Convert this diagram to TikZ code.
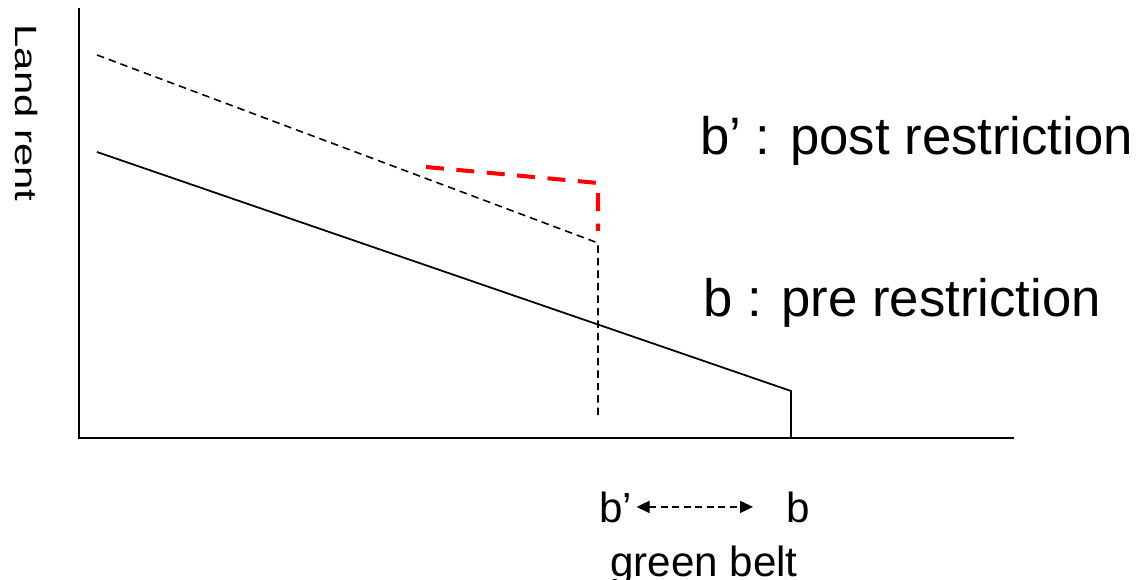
\documentclass[tikz,border=0pt]{standalone}
\usepackage{fontspec}
\setmainfont{Liberation Sans}
\usetikzlibrary{arrows.meta}
\definecolor{limitred}{HTML}{FF0000}

\begin{document}
\begin{tikzpicture}[x=0.02cm, y=-0.02cm,
    axis/.style={line width=1.1pt},
    rentline/.style={line width=1pt},
    postline/.style={line width=0.9pt, dash pattern=on 0.15cm off 0.1cm},
    limitline/.style={limitred, line width=2.3pt, dash pattern=on 0.36cm off 0.25cm},
    biglabel/.style={inner sep=0pt, font=\fontsize{24pt}{28pt}\selectfont},
    curvelabel/.style={inner sep=0pt, anchor=base west, font=\fontsize{30pt}{34pt}\selectfont}]
  \useasboundingbox (0,0) rectangle (1138,580);
  % axes
  \coordinate (ytop) at (79,8);
  \coordinate (origin) at (79,438);
  \coordinate (xend) at (1014,438);
  \draw[axis] (ytop) -- (origin) -- (xend);
  % rent before the restriction
  \coordinate (pre0) at (97,152);
  \coordinate (preb) at (791,391);
  \coordinate (prefoot) at (791,438);
  \draw[rentline] (pre0) -- (preb) -- (prefoot);
  % rent after the restriction
  \coordinate (post0) at (97,55);
  \coordinate (postb) at (598,243);
  \coordinate (postfoot) at (598,420);
  \draw[postline] (post0) -- (postb) -- (postfoot);
  \coordinate (lim0) at (426,167);
  \coordinate (limc) at (598,183);
  \coordinate (limend) at (598,231);
  \draw[limitline] (lim0) -- (limc) -- (limend);
  % labels
  \node[inner sep=0pt, rotate=-90, font=\fontsize{17.5pt}{20pt}\selectfont] (rent) at (26,113)
    {\scalebox{1.36}[1]{Land rent}};
  \node[curvelabel] (postlbl) at (700,155) {b’ : post restriction};
  \node[curvelabel] (prelbl) at (703,317) {b : pre restriction};
  \node[biglabel, anchor=base west] (bprime) at (599,522) {b’};
  \node[biglabel, anchor=base west] (bpre) at (786,522) {b};
  \node[biglabel, anchor=base] (belt) at (704,576) {green belt};
  \draw[{Triangle[length=0.26cm,width=0.24cm]}-{Triangle[length=0.26cm,width=0.24cm]},
        line width=1pt, dash pattern=on 0.14cm off 0.09cm,
        shorten <=0.08cm, shorten >=0.66cm] (bprime.east) -- (bpre.west);
\end{tikzpicture}
\end{document}
